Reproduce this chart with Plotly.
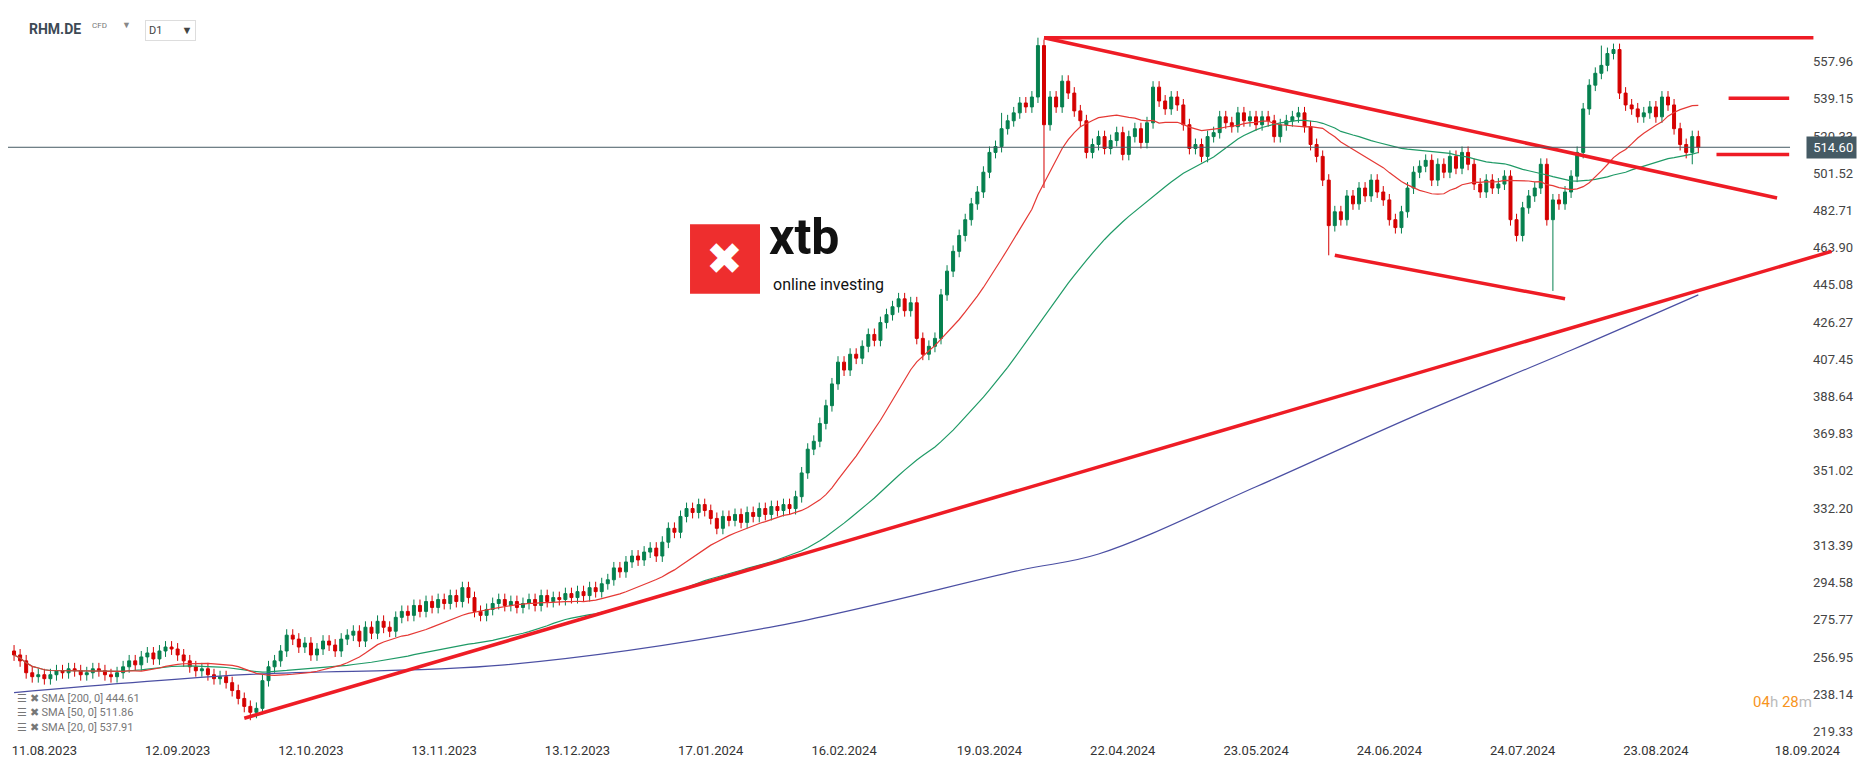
import pandas as pd
import plotly.graph_objects as go

# daily closes, candle index 0 = 04.08.2023
closes = [
    258, 255, 249, 247, 248, 246, 248, 250, 249, 251,
    250, 248, 249, 251, 250, 248, 247, 249, 252, 255,
    253, 257, 259, 256, 260, 262, 261, 258, 255, 252,
    250, 251, 248, 246, 247, 244, 240, 236, 232, 229,
    231, 245, 252, 255, 260, 268, 266, 262, 264, 258,
    261, 265, 263, 260, 266, 268, 270, 265, 272, 269,
    275, 272, 270, 277, 280, 278, 283, 280, 285, 282,
    286, 284, 288, 285, 292, 287, 280, 278, 281, 284,
    286, 283, 285, 282, 284, 286, 283, 288, 285, 287,
    286, 289, 287, 290, 288, 292, 290, 294, 296, 302,
    300, 305, 308, 306, 310, 312, 308, 315, 322, 320,
    328, 332, 330, 334, 331, 327, 322, 328, 326, 329,
    325, 330, 328, 332, 329, 333, 331, 334, 332, 338,
    350, 362, 366, 375, 384, 395, 406, 402, 410, 408,
    414, 420, 417, 426, 430, 434, 438, 432, 436, 418,
    410, 414, 418, 440, 452, 462, 470, 478, 486, 492,
    502, 512, 515, 524, 528, 532, 537, 535, 540, 566,
    526, 540, 535, 548, 542, 533, 528, 512, 516, 520,
    514, 518, 522, 511, 520, 524, 517, 527, 545, 538,
    534, 540, 536, 526, 514, 516, 510, 520, 522, 530,
    527, 525, 532, 528, 530, 526, 530, 528, 520, 526,
    528, 530, 532, 525, 516, 510, 498, 475, 482, 478,
    490, 486, 494, 490, 498, 492, 488, 478, 474, 482,
    494, 502, 505, 508, 498, 506, 502, 510, 504, 512,
    506, 496, 492, 498, 494, 496, 500, 478, 470, 484,
    490, 494, 506, 478, 488, 486, 492, 500, 512, 534,
    546, 552, 556, 562, 564, 542, 536, 534, 530, 532,
    535, 530, 540, 536, 524, 516, 512, 520, 514.6,
]
first_open = 260
long_highs = {169: 570, 163: 532, 262: 566}
long_lows = {170: 494, 217: 460, 254: 442, 39: 225, 277: 506}
WICK = 3

sma200_idx = [0, 38, 81, 126, 166, 179, 205, 231, 257, 278]
sma200_val = [239, 248, 253, 272.7, 300.8, 309, 343, 378.6, 412, 440]

tick_idx = [5, 27, 49, 71, 93, 115, 137, 161, 183, 205, 227, 249, 271, 296]
tick_txt = ["11.08.2023", "12.09.2023", "12.10.2023", "13.11.2023", "13.12.2023",
            "17.01.2024", "16.02.2024", "19.03.2024", "22.04.2024", "23.05.2024",
            "24.06.2024", "24.07.2024", "23.08.2024", "18.09.2024"]
y_ticks = [219.33, 238.14, 256.95, 275.77, 294.58, 313.39, 332.20, 351.02, 369.83,
           388.64, 407.45, 426.27, 445.08, 463.90, 482.71, 501.52, 520.33, 539.15, 557.96]

# drawn trend lines: (x0, y0, x1, y1) in candle index / price
trend_lines = [
    (170, 570, 297, 570),
    (170, 570, 291, 489),
    (218, 460, 256, 438),
    (38, 226, 300, 462),
    (283, 539.4, 293, 539.4),
    (281, 511, 293, 511),
]
last_price = 514.60

n = len(closes)
idx = list(range(n))
opens = [first_open] + closes[:-1]
highs = [long_highs.get(i, max(o, c) + WICK) for i, (o, c) in enumerate(zip(opens, closes))]
lows = [long_lows.get(i, min(o, c) - WICK) for i, (o, c) in enumerate(zip(opens, closes))]
s = pd.Series(closes)
sma20 = s.rolling(20, min_periods=1).mean()
sma50 = s.rolling(50, min_periods=1).mean()

fig = go.Figure()
fig.add_trace(go.Scatter(x=sma200_idx, y=sma200_val, mode="lines", line_shape="spline",
                         line=dict(color="#4b4fa3", width=1.2), hoverinfo="skip"))
fig.add_trace(go.Scatter(x=idx, y=sma50, mode="lines",
                         line=dict(color="#1f9a66", width=1.2), hoverinfo="skip"))
fig.add_trace(go.Scatter(x=idx, y=sma20, mode="lines",
                         line=dict(color="#e53935", width=1.2), hoverinfo="skip"))
fig.add_trace(go.Candlestick(
    x=idx, open=opens, high=highs, low=lows, close=closes,
    increasing=dict(line=dict(color="#06804f", width=1), fillcolor="#06804f"),
    decreasing=dict(line=dict(color="#d50000", width=1), fillcolor="#d50000"),
    whiskerwidth=0,
))

for x0, y0, x1, y1 in trend_lines:
    fig.add_shape(type="line", x0=x0, y0=y0, x1=x1, y1=y1,
                  line=dict(color="#ee1c25", width=3.5))
fig.add_shape(type="line", xref="paper", x0=0, x1=0.955, y0=last_price, y1=last_price,
              line=dict(color="#455a64", width=1))

# xtb watermark
fig.add_shape(type="rect", xref="paper", yref="paper", x0=0.3655, x1=0.403, y0=0.61, y1=0.705,
              fillcolor="#ee2e2e", line_width=0, layer="above")
fig.add_annotation(xref="paper", yref="paper", x=0.3842, y=0.657, text="✖", showarrow=False,
                   font=dict(size=44, color="white"))
fig.add_annotation(xref="paper", yref="paper", x=0.407, y=0.645, yanchor="bottom", text="<b>xtb</b>",
                   showarrow=False, xanchor="left", font=dict(size=50, color="#111", family="Roboto"))
fig.add_annotation(xref="paper", yref="paper", x=0.409, y=0.623, text="online investing", showarrow=False,
                   xanchor="left", font=dict(size=16, color="#111", family="Roboto"))

# header
fig.add_annotation(xref="paper", yref="paper", x=0.010, y=0.985, text="<b>RHM.DE</b>", showarrow=False,
                   xanchor="left", font=dict(size=14, color="#3d4a55"))
fig.add_annotation(xref="paper", yref="paper", x=0.044, y=0.985, text="CFD", showarrow=False,
                   xanchor="left", font=dict(size=8, color="#777"))
fig.add_annotation(xref="paper", yref="paper", x=0.060, y=0.987, text="▼", showarrow=False,
                   xanchor="left", font=dict(size=9, color="#888"))
fig.add_annotation(xref="paper", yref="paper", x=0.0735, y=0.983, text="D1       ▼", showarrow=False,
                   xanchor="left", font=dict(size=11, color="#444"), bordercolor="#ddd", borderwidth=1,
                   borderpad=3, bgcolor="white")

# sma legend
for txt, yy in [("SMA [200, 0] 444.61", 0.047), ("SMA [50, 0] 511.86", 0.027),
                ("SMA [20, 0] 537.91", 0.007)]:
    fig.add_annotation(xref="paper", yref="paper", x=0.004, y=yy, text="☰ ✖ " + txt, showarrow=False,
                       xanchor="left", font=dict(size=11, color="#777"))

fig.add_annotation(xref="paper", y=last_price, x=0.991, text=" 514.60", showarrow=False, xanchor="right",
                   font=dict(size=13, color="white"), bgcolor="#455a64", borderpad=3)
fig.add_annotation(xref="paper", yref="paper", x=0.968, y=0.038,
                   text="<span style='color:#f7941d'>04</span><span style='color:#bbb'>h</span> "
                        "<span style='color:#f7941d'>28</span><span style='color:#bbb'>m</span>",
                   showarrow=False, font=dict(size=15))

fig.update_layout(
    width=1866, height=759, showlegend=False,
    paper_bgcolor="white", plot_bgcolor="white",
    margin=dict(l=0, r=0, t=0, b=26),
    font=dict(family="Roboto", color="#333"),
    xaxis=dict(range=[-1, 307], tickvals=tick_idx, ticktext=tick_txt, showgrid=False,
               zeroline=False, rangeslider=dict(visible=False), tickfont=dict(size=13), ticks="",
               ticklabeloverflow="allow"),
    yaxis=dict(range=[214.5, 585], side="right", tickvals=y_ticks,
               ticktext=[f"{v:.2f}" for v in y_ticks], ticklabelposition="inside",
               ticklabeloverflow="allow", ticklabelstandoff=18, showgrid=False, zeroline=False,
               tickfont=dict(size=13)),
)
fig.write_html("out.html")
